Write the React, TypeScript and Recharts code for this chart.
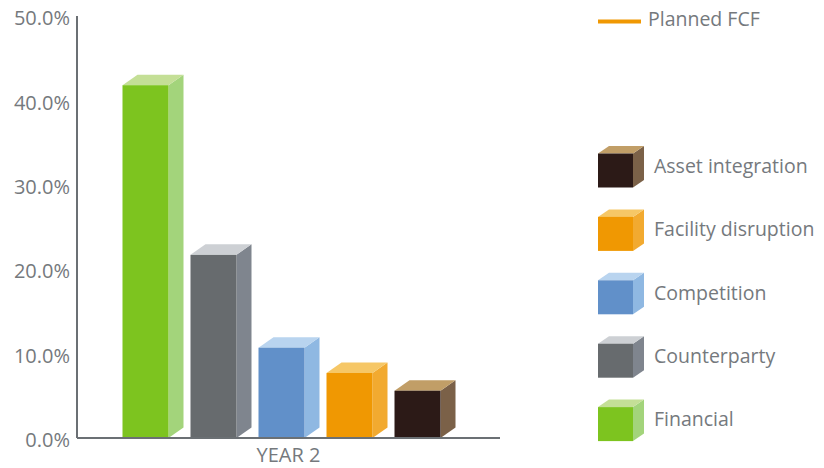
import { BarChart, Bar, XAxis, YAxis } from 'recharts';

const categories = ['YEAR 2'];
const seriesNames = ['Financial', 'Counterparty', 'Competition', 'Facility disruption', 'Asset integration'];
const seriesValues = [41.8, 21.7, 10.7, 7.7, 5.6];
const frontColors = ['#7dc41f', '#676b6e', '#6190c9', '#f09802', '#2c1a17'];
const sideColors = ['#a3d47b', '#7f858e', '#8fb8e2', '#f2aa30', '#7b6148'];
const topColors = ['#c4df96', '#cdd0d4', '#b9d4ef', '#f6c766', '#c19e67'];
const yTicks = [0, 10, 20, 30, 40, 50];
const lineLegendName = 'Planned FCF';
const lineLegendColor = '#f09802';

const TEXT = '#75797d';
const AXIS = '#6b7074';
const FONT = '"Open Sans", sans-serif';
const DX = 15;
const DY = 10.5;

const chartData = categories.map((name) => {
  const row: Record<string, string | number> = { name };
  seriesNames.forEach((s, i) => {
    row[s] = seriesValues[i];
  });
  return row;
});

interface BoxProps {
  x?: number;
  y?: number;
  width?: number;
  height?: number;
  front: string;
  side: string;
  top: string;
  dx: number;
  dy: number;
}

function Box3D({ x = 0, y = 0, width = 0, height = 0, front, side, top, dx, dy }: BoxProps) {
  const l = x;
  const r = x + width;
  const b = y + height;
  return (
    <g>
      <polygon points={`${r},${y} ${r + dx},${y - dy} ${r + dx},${b - dy} ${r},${b}`} fill={side} />
      <polygon points={`${l},${y} ${l + dx},${y - dy} ${r + dx},${y - dy} ${r},${y}`} fill={top} />
      <rect x={l} y={y} width={width} height={height} fill={front} />
    </g>
  );
}

function ChartLegend() {
  const order = seriesNames.map((_, i) => i).reverse();
  return (
    <svg
      width={234}
      height={468}
      style={{ position: 'absolute', left: 590, top: 0, fontFamily: FONT }}
    >
      <line x1={8} x2={51} y1={21.5} y2={21.5} stroke={lineLegendColor} strokeWidth={4} />
      <text x={58} y={21} fill={TEXT} fontSize={19.5} dominantBaseline="middle">
        {lineLegendName}
      </text>
      {order.map((si, k) => {
        const top = 153.5 + k * 63.4;
        return (
          <g key={seriesNames[si]}>
            <Box3D
              x={8}
              y={top}
              width={35}
              height={34}
              front={frontColors[si]}
              side={sideColors[si]}
              top={topColors[si]}
              dx={11}
              dy={7.5}
            />
            <text x={64} y={top + 14} fill={TEXT} fontSize={19.5} dominantBaseline="middle">
              {seriesNames[si]}
            </text>
          </g>
        );
      })}
    </svg>
  );
}

export default function App() {
  return (
    <div style={{ position: 'absolute', left: 0, top: 0, width: 824, height: 468, background: '#fff' }}>
      <BarChart
        width={824}
        height={468}
        data={chartData}
        margin={{ top: 16, right: 324, bottom: 0, left: 0 }}
        barSize={46}
        barGap={22}
        style={{ fontFamily: FONT }}
      >
        <XAxis
          dataKey="name"
          axisLine={{ stroke: AXIS, strokeWidth: 2 }}
          tickLine={false}
          tickMargin={4}
          height={30}
          tick={{ fill: TEXT, fontSize: 20 }}
        />
        <YAxis
          domain={[0, 50]}
          ticks={yTicks}
          width={77}
          axisLine={{ stroke: AXIS, strokeWidth: 2 }}
          tickLine={false}
          tickMargin={1}
          tickFormatter={(v: number) => `${v.toFixed(1)}%`}
          tick={{ fill: TEXT, fontSize: 20, dy: 2 }}
        />
        {seriesNames.map((s, i) => (
          <Bar
            key={s}
            dataKey={s}
            isAnimationActive={false}
            shape={(p: any) => (
              <Box3D
                x={p.x - DX / 2}
                y={p.y}
                width={p.width}
                height={p.height}
                front={frontColors[i]}
                side={sideColors[i]}
                top={topColors[i]}
                dx={DX}
                dy={DY}
              />
            )}
          />
        ))}
      </BarChart>
      <ChartLegend />
    </div>
  );
}
